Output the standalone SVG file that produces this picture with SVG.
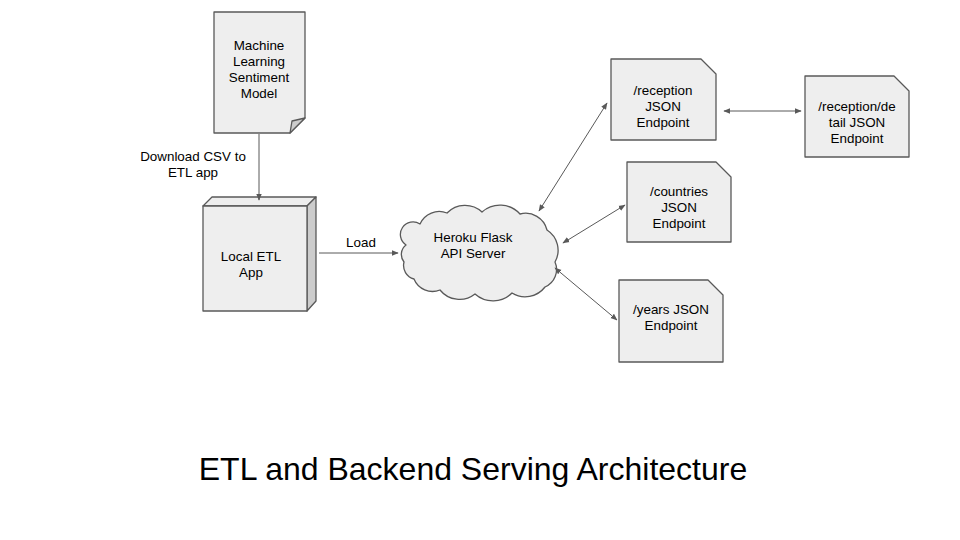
<svg xmlns="http://www.w3.org/2000/svg" width="960" height="540" viewBox="0 0 960 540">
<style>
.shape{fill:#eeeeee;stroke:#595959;stroke-width:1.3;stroke-linejoin:round}
.dark{fill:#cccccc;stroke:#595959;stroke-width:1.3;stroke-linejoin:round}
.lbl{font-family:"Liberation Sans",Arial,sans-serif;font-size:13.4px;fill:#000;text-anchor:middle}
.conn{fill:none;stroke:#595959;stroke-width:1}
.title{font-family:"Liberation Sans",Arial,sans-serif;font-size:32px;fill:#000;text-anchor:middle}
</style>
<defs>
<marker id="ah" viewBox="0 0 10 10" refX="9" refY="5" markerWidth="7" markerHeight="7" markerUnits="userSpaceOnUse" orient="auto-start-reverse">
<path d="M0,1 L10,5 L0,9 Z" fill="#595959"/>
</marker>
</defs>
<rect width="960" height="540" fill="#ffffff"/>
<g id="ml-model">
<path class="shape" d="M214,12 H305 V118 L290,133 H214 Z"/>
<path class="dark" d="M305,118 L292,121 L290,133 Z"/>
<text class="lbl" x="259" y="50">Machine</text>
<text class="lbl" x="259" y="66">Learning</text>
<text class="lbl" x="259" y="82">Sentiment</text>
<text class="lbl" x="259" y="98">Model</text>
</g>
<g id="local-etl">
<path class="shape" d="M203,206 L212,197 H316 L307,206 Z"/>
<path class="dark" d="M307,206 L316,197 V301 L307,311 Z"/>
<rect class="shape" x="203" y="206" width="104" height="105"/>
<text class="lbl" x="251" y="261">Local ETL</text>
<text class="lbl" x="251" y="277">App</text>
</g>
<g id="flask-server">
<path class="shape" d="M406,245 A12,12 0 0 1 420,224 A21,21 0 0 1 447,213 A25,25 0 0 1 482,212 A27,27 0 0 1 520,214 A22,22 0 0 1 547,230 A24,24 0 0 1 555,262 A19,19 0 0 1 545,287 A25,25 0 0 1 512,293 A27,27 0 0 1 475,294 A25,25 0 0 1 440,290 A20,20 0 0 1 414,279 A14,14 0 0 1 404,262 A12,12 0 0 1 406,245 Z"/>
<text class="lbl" x="473" y="242">Heroku Flask</text>
<text class="lbl" x="473" y="258">API Server</text>
</g>
<g id="reception">
<path class="shape" d="M611,59 H701 L716,74 V140 H611 Z"/>
<text class="lbl" x="663" y="95">/reception</text>
<text class="lbl" x="663" y="111">JSON</text>
<text class="lbl" x="663" y="127">Endpoint</text>
</g>
<g id="reception-detail">
<path class="shape" d="M805,76 H894 L909,91 V157 H805 Z"/>
<text class="lbl" x="857" y="111">/reception/de</text>
<text class="lbl" x="857" y="127">tail JSON</text>
<text class="lbl" x="857" y="143">Endpoint</text>
</g>
<g id="countries">
<path class="shape" d="M627,162 H716 L731,177 V242 H627 Z"/>
<text class="lbl" x="679" y="196">/countries</text>
<text class="lbl" x="679" y="212">JSON</text>
<text class="lbl" x="679" y="228">Endpoint</text>
</g>
<g id="years">
<path class="shape" d="M619,280 H708 L723,295 V362 H619 Z"/>
<text class="lbl" x="671" y="314">/years JSON</text>
<text class="lbl" x="671" y="330">Endpoint</text>
</g>
<g id="connectors">
<line class="conn" x1="259" y1="134" x2="259" y2="200" marker-end="url(#ah)"/>
<line class="conn" x1="319" y1="253" x2="398" y2="253" marker-end="url(#ah)"/>
<line class="conn" x1="539" y1="211" x2="607" y2="103" marker-start="url(#ah)" marker-end="url(#ah)"/>
<line class="conn" x1="724" y1="111" x2="801" y2="111" marker-start="url(#ah)" marker-end="url(#ah)"/>
<line class="conn" x1="563" y1="243" x2="625" y2="205" marker-start="url(#ah)" marker-end="url(#ah)"/>
<line class="conn" x1="555" y1="268" x2="617" y2="320" marker-start="url(#ah)" marker-end="url(#ah)"/>
<text class="lbl" x="193" y="161">Download CSV to</text>
<text class="lbl" x="193" y="177">ETL app</text>
<text class="lbl" x="361" y="247">Load</text>
</g>
<text class="title" x="473" y="480">ETL and Backend Serving Architecture</text>
</svg>
